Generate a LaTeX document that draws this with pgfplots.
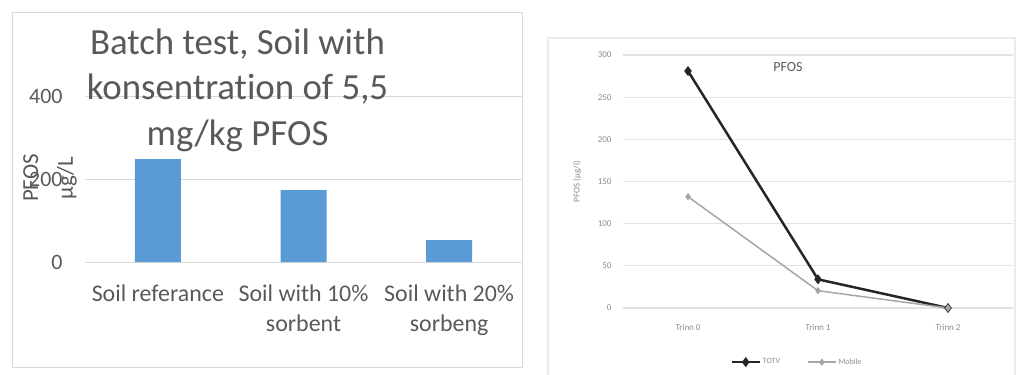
\documentclass[border=0pt]{standalone}
\usepackage{pgfplots}
\pgfplotsset{compat=1.18}
\usepackage{fontspec}
\setmainfont{Carlito}[Ligatures=NoCommon]
\definecolor{txtgray}{HTML}{595959}
\definecolor{gridgray}{HTML}{D9D9D9}
\definecolor{barblue}{HTML}{5B9BD5}
\definecolor{lgray}{HTML}{8C8C8C}
\definecolor{rgrid}{HTML}{E3E3E3}
\definecolor{dark}{HTML}{262626}
\definecolor{mob}{HTML}{A6A6A6}
\begin{document}
\begin{tikzpicture}[x=1bp,y=1bp]
\useasboundingbox (0,0) rectangle (1016,374);
\draw[gridgray, line width=1bp] (12,7) rectangle (522,361);
\draw[rgrid!70, line width=1.5bp] (548,-2) -- (548,336) -- (1015,336) -- (1015,-2);
\begin{axis}[
  at={(85bp,112bp)}, anchor=south west,
  width=437bp, height=166bp, scale only axis,
  xmin=-0.5, xmax=2.5, ymin=0, ymax=400,
  axis line style={draw=none},
  ytick={0,200,400},
  ymajorgrids, grid style={gridgray, line width=1bp},
  major tick length=0pt,
  xtick={0,1,2},
  xticklabels={Soil referance, Soil with 10\%\\sorbent, Soil with 20\%\\sorbeng},
  xticklabel style={align=center, font=\fontsize{24}{30}\selectfont, text=txtgray, yshift=-19bp},
  yticklabel style={font=\fontsize{22}{25}\selectfont, text=txtgray, xshift=-19bp},
  /pgf/number format/assume math mode=true,
  ylabel={PFOS\\µg/L},
  every axis y label/.style={at={(axis description cs:-0.08,0.506)}, rotate=90, anchor=center, align=center, font=\fontsize{23}{35}\selectfont, text=txtgray},
  title={Batch test, Soil with\\konsentration of 5,5\\mg/kg PFOS},
  title style={align=center, font=\fontsize{37}{45.5}\selectfont, text=txtgray, at={(axis description cs:0.349,1.39)}, anchor=north},
  clip=false,
]
\addplot[ybar, bar width=46bp, fill=barblue, draw=none, bar shift=0pt] coordinates {(0,248) (1,173) (2,53)};
\end{axis}
\begin{axis}[
  at={(623bp,66bp)}, anchor=south west,
  width=390bp, height=253bp, scale only axis,
  xmin=-0.5, xmax=2.5, ymin=0, ymax=300,
  axis line style={draw=none},
  ytick={0,50,...,300},
  ymajorgrids, grid style={rgrid, line width=1.2bp},
  major tick length=0pt,
  xtick={0,1,2},
  xticklabels={Trinn 0, Trinn 1, Trinn 2},
  xticklabel style={font=\fontsize{9}{10}\selectfont, text=lgray, yshift=-13bp},
  yticklabel style={font=\fontsize{9}{10}\selectfont, text=lgray, xshift=-8bp},
  /pgf/number format/assume math mode=true,
  ylabel={PFOS (µg/l)},
  every axis y label/.style={at={(axis description cs:-0.118,0.5)}, rotate=90, anchor=center, font=\fontsize{9}{10}\selectfont, text=lgray},
  title={PFOS},
  title style={font=\fontsize{14}{16}\selectfont, text=txtgray, at={(axis description cs:0.423,0.93)}, anchor=center},
  legend style={at={(axis description cs:0.446,-0.214)}, anchor=center, draw=none, fill=none, legend columns=2, font=\fontsize{8}{9}\selectfont, text=lgray, /tikz/every even column/.append style={column sep=25bp}},
  legend image code/.code={\draw[#1] (0bp,0bp) -- (28bp,0bp); \draw[#1, mark repeat=1] plot coordinates {(14bp,0bp)};},
  clip=false,
]
\addplot[dark, line width=2.5bp, mark=diamond*, mark size=3bp, mark options={fill=dark}] coordinates {(0,281) (1,34) (2,0)};
\addlegendentry{TOTV}
\addplot[mob, line width=1.5bp, mark=diamond*, mark size=2.5bp, mark options={fill=mob}] coordinates {(0,132) (1,20.5) (2,0)};
\addlegendentry{Mobile}
\end{axis}
\end{tikzpicture}
\end{document}
